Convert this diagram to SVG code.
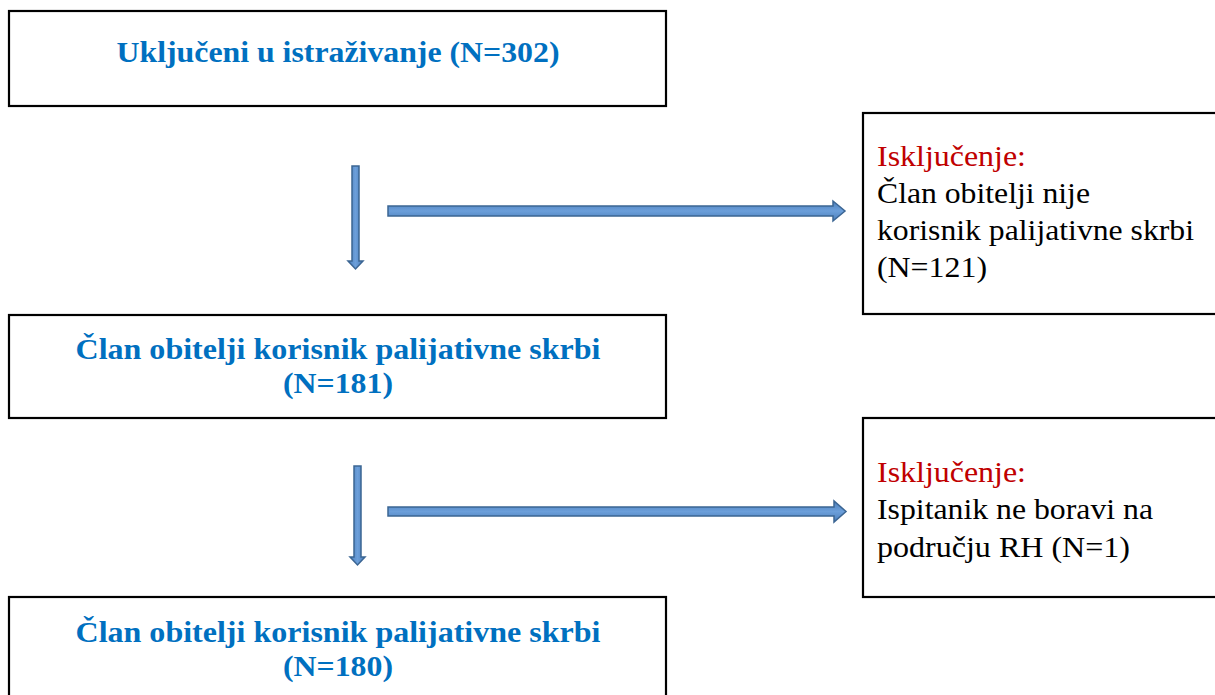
<svg xmlns="http://www.w3.org/2000/svg" width="1215" height="695" viewBox="0 0 1215 695">
<style>
.box{fill:#fff;stroke:#000;stroke-width:2.2}
.title{font-family:"Liberation Serif","Times New Roman",serif;font-weight:bold;font-size:30px;fill:#0070C0;text-anchor:middle}
.side{font-family:"Liberation Serif","Times New Roman",serif;font-size:30px;fill:#000}
.red{fill:#C00000}
.arr{stroke:#3B6593;stroke-width:1.5;stroke-linejoin:miter}
.h{fill:url(#gh)}
.v{fill:url(#gv)}
</style>
<defs>
<linearGradient id="gh" x1="0" y1="0" x2="0" y2="1">
<stop offset="0" stop-color="#4A7EBB"/><stop offset="0.5" stop-color="#6C9FDA"/><stop offset="1" stop-color="#4A7EBB"/>
</linearGradient>
<linearGradient id="gv" x1="0" y1="0" x2="1" y2="0">
<stop offset="0" stop-color="#4A7EBB"/><stop offset="0.5" stop-color="#6C9FDA"/><stop offset="1" stop-color="#4A7EBB"/>
</linearGradient>
</defs>
<rect width="1215" height="695" fill="#fff"/>
<g id="n1">
<rect class="box" x="9" y="11" width="657" height="95"/>
<text class="title" x="338" y="62" textLength="443" lengthAdjust="spacingAndGlyphs">Uključeni u istraživanje (N=302)</text>
</g>
<g id="n2">
<rect class="box" x="9" y="315" width="657" height="103"/>
<text class="title" x="338" y="359" textLength="525" lengthAdjust="spacingAndGlyphs">Član obitelji korisnik palijativne skrbi</text>
<text class="title" x="338" y="393" textLength="110" lengthAdjust="spacingAndGlyphs">(N=181)</text>
</g>
<g id="n3">
<rect class="box" x="9" y="597" width="657" height="110"/>
<text class="title" x="338" y="642" textLength="525" lengthAdjust="spacingAndGlyphs">Član obitelji korisnik palijativne skrbi</text>
<text class="title" x="338" y="676" textLength="110" lengthAdjust="spacingAndGlyphs">(N=180)</text>
</g>
<g id="e1">
<rect class="box" x="863" y="113" width="360" height="201"/>
<text class="side red" x="877" y="166" textLength="149" lengthAdjust="spacingAndGlyphs">Isključenje:</text>
<text class="side" x="877" y="203" textLength="213" lengthAdjust="spacingAndGlyphs">Član obitelji nije</text>
<text class="side" x="877" y="240" textLength="317" lengthAdjust="spacingAndGlyphs">korisnik palijativne skrbi</text>
<text class="side" x="877" y="277" textLength="110" lengthAdjust="spacingAndGlyphs">(N=121)</text>
</g>
<g id="e2">
<rect class="box" x="863" y="418" width="360" height="179"/>
<text class="side red" x="877" y="482" textLength="149" lengthAdjust="spacingAndGlyphs">Isključenje:</text>
<text class="side" x="877" y="519" textLength="276" lengthAdjust="spacingAndGlyphs">Ispitanik ne boravi na</text>
<text class="side" x="877" y="557" textLength="253" lengthAdjust="spacingAndGlyphs">području RH (N=1)</text>
</g>
<g id="connectors">
<path class="arr v" d="M352,166 H359 V261 H363 L355.5,269 L348,261 H352 Z"/>
<path class="arr h" d="M388,206 H833 V201 L845,211 L833,221 V216 H388 Z"/>
<path class="arr v" d="M354,466 H361 V557 H365 L357.5,565 L350,557 H354 Z"/>
<path class="arr h" d="M388,507 H834 V501 L846,511.5 L834,522 V516 H388 Z"/>
</g>
</svg>
